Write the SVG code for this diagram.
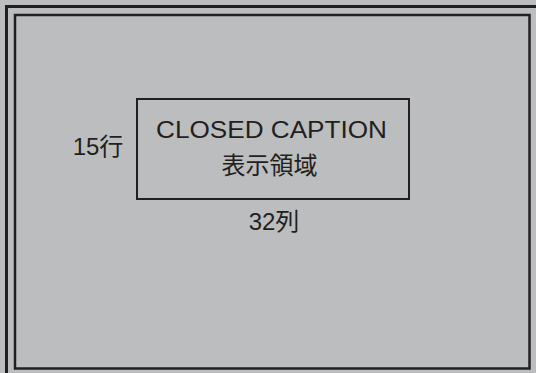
<svg xmlns="http://www.w3.org/2000/svg" width="536" height="373" viewBox="0 0 536 373">
<style>
.frame{fill:none;stroke:#231f20}
.t{font-family:"Liberation Sans","Noto Sans CJK JP",sans-serif;fill:#231f20;font-size:24px}
</style>
<rect x="0" y="0" width="536" height="373" fill="#bcbdbf"/>
<rect class="frame" x="6.5" y="6.5" width="534" height="372" stroke-width="3"/>
<rect class="frame" x="15" y="15" width="514.5" height="353.5" stroke-width="2.5"/>
<g id="caption-area">
<rect class="frame" x="137" y="99" width="272" height="100" stroke-width="2"/>
<text class="t" x="271.5" y="138" text-anchor="middle" textLength="231" lengthAdjust="spacingAndGlyphs">CLOSED CAPTION</text>
<text class="t" x="269.5" y="174" text-anchor="middle">表示領域</text>
</g>
<g id="rows-label"><text class="t" x="98" y="155" text-anchor="middle">15行</text></g>
<g id="cols-label"><text class="t" x="274" y="230" text-anchor="middle">32列</text></g>
<g id="connectors"/>
</svg>
